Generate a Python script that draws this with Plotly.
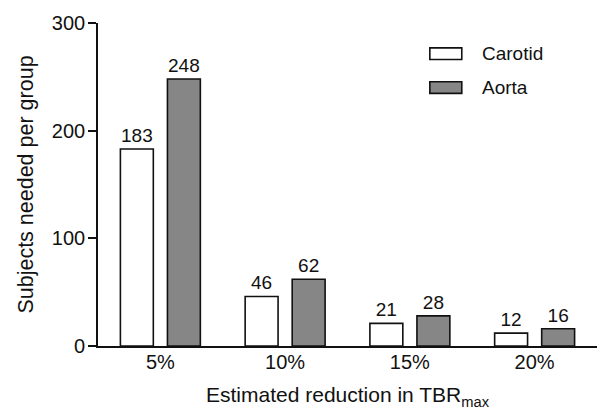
import plotly.graph_objects as go

categories = ["5%", "10%", "15%", "20%"]
carotid = [183, 46, 21, 12]
aorta = [248, 62, 28, 16]
series_names = ["Carotid", "Aorta"]
yticks = [0, 100, 200, 300]

FONT = "Liberation Sans, Arial, sans-serif"
fig = go.Figure()
fig.add_trace(go.Bar(x=categories, y=carotid, name=series_names[0],
                     marker=dict(color="white", line=dict(color="#111", width=1.6)),
                     text=[str(v) for v in carotid], textposition="outside",
                     textfont=dict(size=19, color="#111", family=FONT), cliponaxis=False,
                     showlegend=False))
fig.add_trace(go.Bar(x=categories, y=aorta, name=series_names[1],
                     marker=dict(color="#868686", line=dict(color="#111", width=1.6)),
                     text=[str(v) for v in aorta], textposition="outside",
                     textfont=dict(size=19, color="#111", family=FONT), cliponaxis=False,
                     showlegend=False))

# custom legend (wide swatches like the reference)
legend_items = [(series_names[0], "white", 0.905), (series_names[1], "#868686", 0.8)]
for name, col, yy in legend_items:
    fig.add_shape(type="rect", xref="paper", yref="paper",
                  x0=0.665, x1=0.729, y0=yy - 0.018, y1=yy + 0.018,
                  fillcolor=col, line=dict(color="#111", width=1.6))
    fig.add_annotation(xref="paper", yref="paper", x=0.765, y=yy, text=name,
                       showarrow=False, xanchor="left", yanchor="middle",
                       font=dict(size=19, color="#111", family=FONT))

fig.update_layout(
    width=609, height=415,
    margin=dict(l=98, r=12, t=17, b=69),
    paper_bgcolor="white", plot_bgcolor="white",
    barmode="group", bargap=0.246, bargroupgap=0.30,
    font=dict(family=FONT, color="#111"),
    showlegend=False,
)
fig.update_xaxes(
    range=[-0.5, 3.5], showline=True, linecolor="#111", linewidth=1.6,
    ticks="", tickfont=dict(size=20, family=FONT, color="#111"),
    ticklabelstandoff=-3,
    title=dict(text="Estimated reduction in TBR<sub>max</sub>",
               font=dict(size=21, family=FONT, color="#111"), standoff=16),
    showgrid=False, zeroline=False,
)
fig.update_yaxes(
    range=[0, 300], tickvals=yticks, showline=True, linecolor="#111", linewidth=1.6,
    ticks="outside", ticklen=8, tickwidth=1.6, tickcolor="#111",
    tickfont=dict(size=20, family=FONT, color="#111"),
    ticklabelstandoff=-1,
    title=dict(text="Subjects needed per group",
               font=dict(size=21.5, family=FONT, color="#111"), standoff=12),
    showgrid=False, zeroline=False,
)

fig.write_html("out.html")
